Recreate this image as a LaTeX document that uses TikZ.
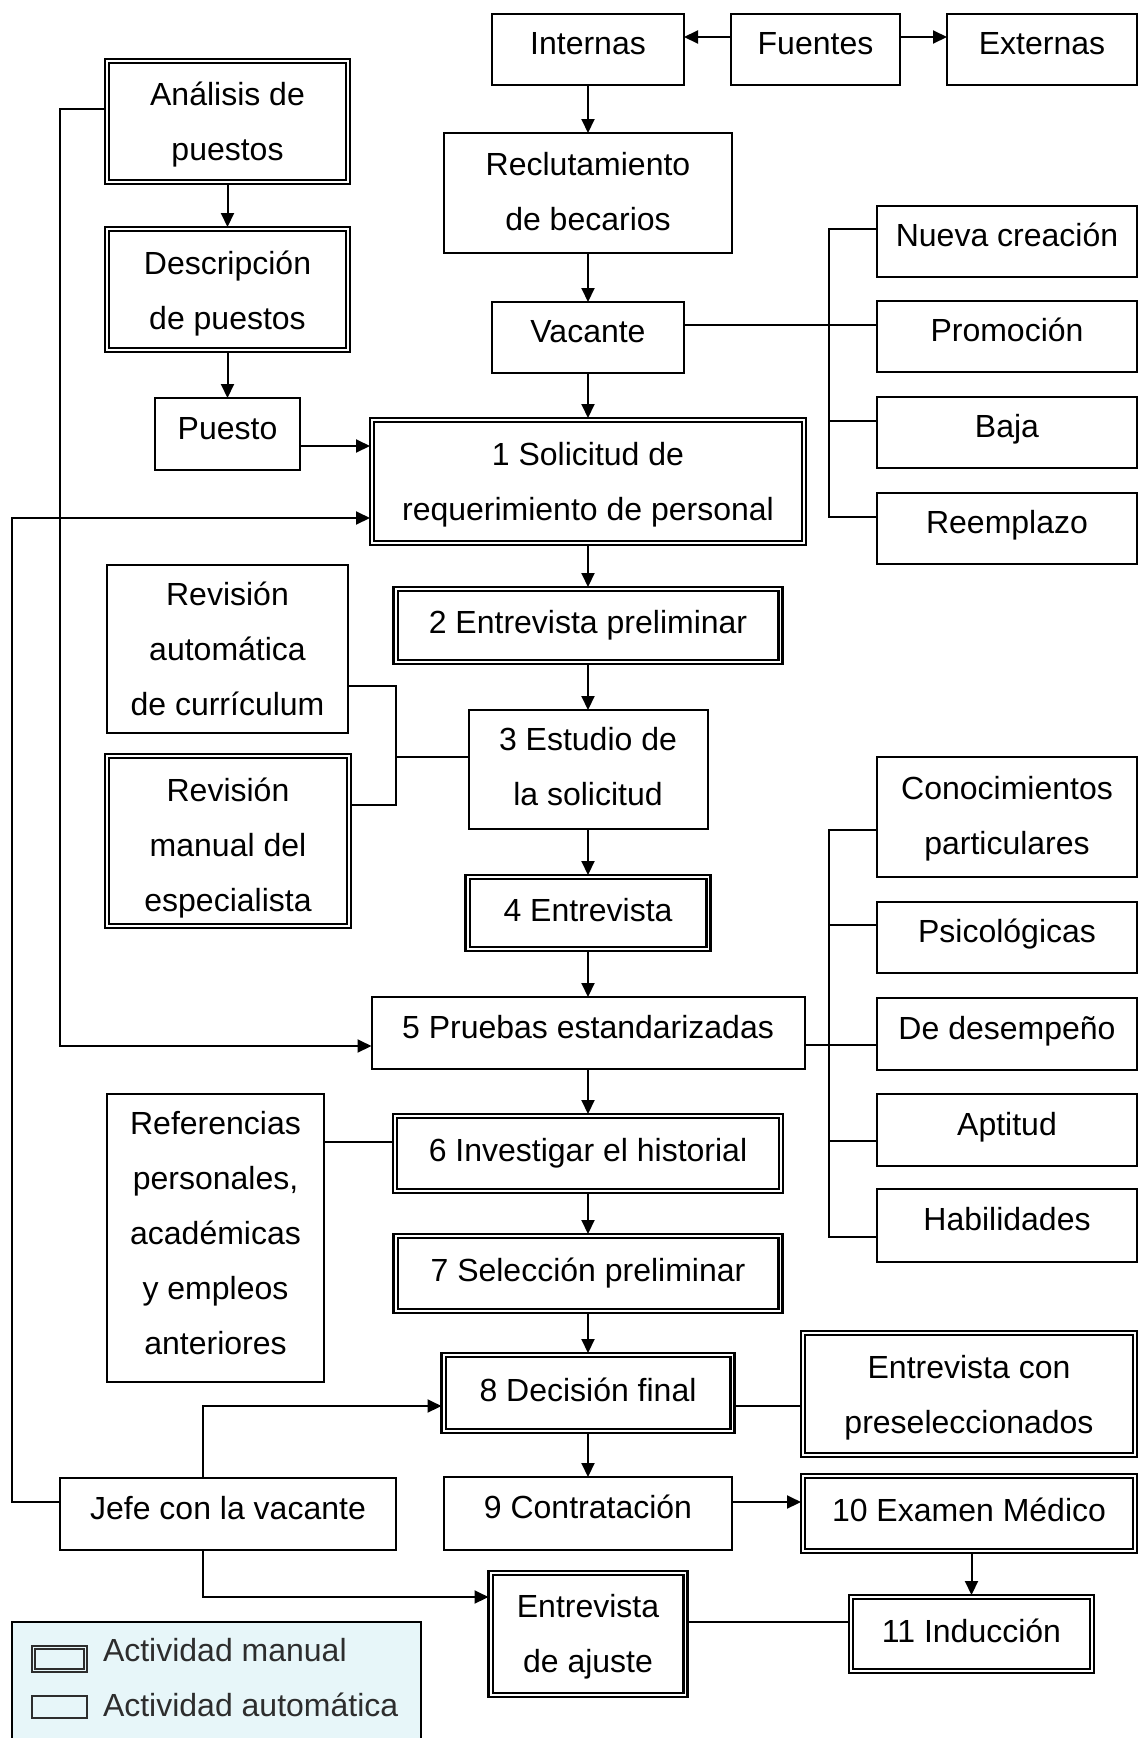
\documentclass[tikz,border=0pt]{standalone}
\usepackage{fontspec}
\setmainfont{Liberation Sans}
\usetikzlibrary{arrows.meta}
\definecolor{legendfill}{RGB}{231,246,249}
\definecolor{legendink}{RGB}{45,45,45}
% strut that gives a one-line label a fixed height and depth
\newcommand\lstrut{\rule[-22.5pt]{0pt}{55pt}}
% strut for the rows of a multi-line label
\newcommand\mstrut{\rule[-16pt]{0pt}{55pt}}
% centred stack of lines, 55pt apart; optional argument lowers the stack
\newcommand\mlines[2][0pt]{$\vcenter{\baselineskip=55pt\lineskiplimit=-100pt\lineskip=0pt
  \vskip#1\relax
  \halign{\hfil\mstrut##\hfil\cr#2\crcr}%
  \vskip-#1\relax}$}
\begin{document}
\begin{tikzpicture}[x=1pt,y=-1pt,
  every node/.style={inner sep=0pt, outer sep=0pt},
  txt/.style={font=\fontsize{32}{55}\selectfont, align=center,
    execute at begin node=\lstrut},
  abox/.style={txt, rectangle, draw, line width=2pt, fill=white},
  mbox/.style={abox, line width=2.4pt,
    execute at begin node={\rule{0pt}{38.5pt}},
    path picture={\draw[line width=2.4pt]
      ([shift={(4.2pt,4.2pt)}]path picture bounding box.south west) rectangle
      ([shift={(-4.2pt,-4.2pt)}]path picture bounding box.north east);}},
  link/.style={line width=2pt},
  arr/.style={link, -{Triangle[length=14pt,width=13pt]}},
  keybox/.style={rectangle, draw=legendink, line width=1.4pt, fill=legendfill},
  keyman/.style={keybox,
    path picture={\draw[legendink, line width=1.4pt]
      ([shift={(3pt,3pt)}]path picture bounding box.south west) rectangle
      ([shift={(-3pt,-3pt)}]path picture bounding box.north east);}},
]
\clip (0,0) rectangle (1139,1738);
\fill[white] (0,0) rectangle (1139,1738);

% routing lanes
\coordinate (laneO) at (12,0);
\coordinate (laneA) at (60,0);
\coordinate (laneJ) at (203,0);
\coordinate (laneR) at (396,0);
\coordinate (laneB) at (829,0);

% sources
\node[abox, minimum width=192, minimum height=71] (int) at (588,49.5) {Internas};
\node[abox, minimum width=169, minimum height=71] (fue) at (815.5,49.5) {Fuentes};
\node[abox, minimum width=190, minimum height=71] (ext) at (1042,49.5) {Externas};

% job analysis column
\node[mbox, minimum width=245, minimum height=125] (ana) at (227.5,121.5) {\mlines{Análisis de\cr puestos}};
\node[mbox, minimum width=245, minimum height=125] (dsc) at (227.5,289.5) {\mlines[1pt]{Descripción\cr de puestos}};
\node[abox, minimum width=145, minimum height=72] (pue) at (227.5,434) {Puesto};

% main flow
\node[abox, minimum width=288, minimum height=120] (rec) at (588,193) {\mlines[-2pt]{Reclutamiento\cr de becarios}};
\node[abox, minimum width=192, minimum height=71] (vac) at (588,337.5) {Vacante};
\node[mbox, minimum width=436, minimum height=127] (sol) at (588,481.5) {\mlines{1 Solicitud de\cr requerimiento de personal}};
\node[mbox, minimum width=389, minimum height=77] (e2) at (588,625.5) {2 Entrevista preliminar};
\node[abox, minimum width=239, minimum height=119] (e3) at (588,769.5) {\mlines[-3pt]{3 Estudio de\cr la solicitud}};
\node[mbox, minimum width=245, minimum height=76] (e4) at (588,913) {4 Entrevista};
\node[abox, minimum width=433, minimum height=72] (e5) at (588,1033) {5 Pruebas estandarizadas};
\node[mbox, minimum width=390, minimum height=79] (e6) at (588,1153.5) {6 Investigar el historial};
\node[mbox, minimum width=389, minimum height=79] (e7) at (588,1273.5) {7 Selección preliminar};
\node[mbox, minimum width=293, minimum height=80] (e8) at (588,1393) {8 Decisión final};
\node[abox, minimum width=288, minimum height=73] (e9) at (588,1513.5) {9 Contratación};
\node[mbox, minimum width=199, minimum height=126] (aju) at (588,1634) {\mlines[-1pt]{Entrevista\cr de ajuste}};

% vacancy causes
\node[abox, minimum width=260, minimum height=71] (nue) at (1007,241.5) {Nueva creación};
\node[abox, minimum width=260, minimum height=71] (pro) at (1007,336.5) {Promoción};
\node[abox, minimum width=260, minimum height=71] (baj) at (1007,432.5) {Baja};
\node[abox, minimum width=260, minimum height=71] (ree) at (1007,528.5) {Reemplazo};

% application review
\node[abox, minimum width=241, minimum height=168] (rva) at (227.5,649) {\mlines{Revisión\cr automática\cr de currículum}};
\node[mbox, minimum width=246, minimum height=174] (rvm) at (228,841) {\mlines[4pt]{Revisión\cr manual del\cr especialista}};

% test types
\node[abox, minimum width=260, minimum height=120] (cpa) at (1007,817) {\mlines[-2pt]{Conocimientos\cr particulares}};
\node[abox, minimum width=260, minimum height=71] (psi) at (1007,937.5) {Psicológicas};
\node[abox, minimum width=260, minimum height=72] (dsm) at (1007,1034) {De desempeño};
\node[abox, minimum width=260, minimum height=72] (apt) at (1007,1130) {Aptitud};
\node[abox, minimum width=260, minimum height=73] (hab) at (1007,1225.5) {Habilidades};

% references, final steps
\node[abox, minimum width=217, minimum height=288] (ref) at (215.5,1238) {\mlines[-5pt]{Referencias\cr personales,\cr académicas\cr y empleos\cr anteriores}};
\node[mbox, minimum width=336, minimum height=126] (pre) at (969,1394) {\mlines{Entrevista con\cr preseleccionados}};
\node[mbox, minimum width=336, minimum height=79] (exa) at (969,1513.5) {10 Examen Médico};
\node[mbox, minimum width=245, minimum height=78] (ind) at (971.5,1634) {11 Inducción};
\node[abox, minimum width=336, minimum height=72] (jef) at (228,1514) {Jefe con la vacante};

% connectors: sources
\draw[arr] (fue.west |- 0,37) -- (int.east |- 0,37);
\draw[arr] (fue.east |- 0,37) -- (ext.west |- 0,37);
\draw[arr] (int.south) -- (rec.north);
\draw[arr] (rec.south) -- (vac.north);
\draw[arr] (vac.south) -- (sol.north);

% connectors: job analysis
\draw[arr] (ana.south) -- (dsc.north);
\draw[arr] (dsc.south) -- (pue.north);
\draw[arr] (pue.east |- 0,446) -- (sol.west |- 0,446);
\draw[arr] (ana.west |- 0,109) -| (laneA |- 0,1046) -- (e5.west |- 0,1046);
\draw[arr] (jef.west |- 0,1502) -| (laneO |- 0,518) -- (sol.west |- 0,518);

% connectors: vacancy causes
\draw[link] (vac.east |- 0,325) -- (pro.west |- 0,325);
\draw[link] (nue.west |- 0,229) -| (laneB |- 0,517) -- (ree.west |- 0,517);
\draw[link] (laneB |- 0,421) -- (baj.west |- 0,421);

% connectors: main flow
\draw[arr] (sol.south) -- (e2.north);
\draw[arr] (e2.south) -- (e3.north);
\draw[arr] (e3.south) -- (e4.north);
\draw[arr] (e4.south) -- (e5.north);
\draw[arr] (e5.south) -- (e6.north);
\draw[arr] (e6.south) -- (e7.north);
\draw[arr] (e7.south) -- (e8.north);
\draw[arr] (e8.south) -- (e9.north);

% connectors: review
\draw[link] (rva.east |- 0,686) -| (laneR |- 0,805) -- (rvm.east |- 0,805);
\draw[link] (laneR |- 0,757) -- (e3.west |- 0,757);

% connectors: tests
\draw[link] (e5.east |- 0,1045) -- (dsm.west |- 0,1045);
\draw[link] (cpa.west |- 0,830) -| (laneB |- 0,1237) -- (hab.west |- 0,1237);
\draw[link] (laneB |- 0,925) -- (psi.west |- 0,925);
\draw[link] (laneB |- 0,1141) -- (apt.west |- 0,1141);

% connectors: final steps
\draw[link] (ref.east |- 0,1142) -- (e6.west |- 0,1142);
\draw[link] (e8.east |- 0,1406) -- (pre.west |- 0,1406);
\draw[arr] (laneJ |- jef.north) |- (e8.west |- 0,1406);
\draw[arr] (laneJ |- jef.south) |- (aju.west |- 0,1597);
\draw[arr] (e9.east |- 0,1502) -- (exa.west |- 0,1502);
\draw[arr] (ind.north |- exa.south) -- (ind.north);
\draw[link] (aju.east |- 0,1622) -- (ind.west |- 0,1622);

% key
\node[rectangle, draw, line width=2pt, fill=legendfill, minimum width=409, minimum height=140,
  anchor=north west] (key) at (12,1622) {};
\node[keyman, minimum width=55, minimum height=26] (keym) at (59.5,1659) {};
\node[keybox, minimum width=55, minimum height=22] (keya) at (59.5,1707) {};
\node[txt, anchor=west, text=legendink] (keymt) at (103,1656) {Actividad manual};
\node[txt, anchor=west, text=legendink] (keyat) at (103,1711) {Actividad automática};
\end{tikzpicture}
\end{document}
